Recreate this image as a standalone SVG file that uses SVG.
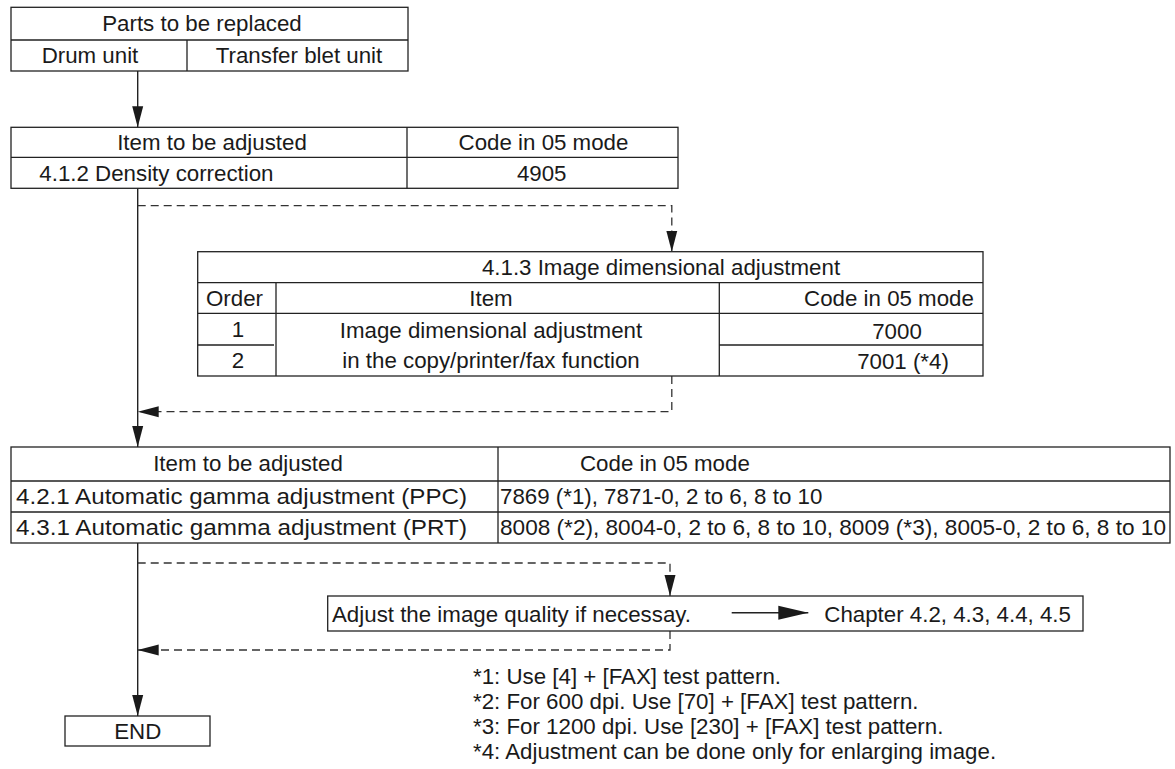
<svg xmlns="http://www.w3.org/2000/svg" width="1175" height="769" viewBox="0 0 1175 769">
<style>
  .t { font-family: "Liberation Sans", Arial, Helvetica, sans-serif; font-size: 22.3px; fill: #1a1a1a; }
  .m { text-anchor: middle; }
  .box { fill: #ffffff; stroke: #222; stroke-width: 1.3; }
  .ln { stroke: #222; stroke-width: 1.3; fill: none; }
  .solid { stroke: #222; stroke-width: 1.4; fill: none; }
  .dash { stroke: #333; stroke-width: 1.3; fill: none; stroke-dasharray: 8 5; }
</style>
<defs>
  <marker id="ah" markerUnits="userSpaceOnUse" markerWidth="22" markerHeight="12" refX="21" refY="6" orient="auto">
    <path d="M0,0.5 L21,6 L0,11.5 Z" fill="#1a1a1a"/>
  </marker>
  <marker id="ah2" markerUnits="userSpaceOnUse" markerWidth="31" markerHeight="15" refX="30" refY="7.5" orient="auto">
    <path d="M0,0.5 L30,7.5 L0,14.5 Z" fill="#1a1a1a"/>
  </marker>
</defs>
<rect width="1175" height="769" fill="#ffffff"/>

<g id="connectors">
  <path class="solid" d="M137.7,71 V127.3" marker-end="url(#ah)"/>
  <path class="solid" d="M137.7,188.3 V447" marker-end="url(#ah)"/>
  <path class="solid" d="M137.7,543 V716" marker-end="url(#ah)"/>
  <path class="dash" d="M137.7,205.7 H671.8 V251.7" marker-end="url(#ah)"/>
  <path class="dash" d="M671.8,376 V411.7 H137.7" marker-end="url(#ah)"/>
  <path class="dash" d="M137.7,563 H670 V596" marker-end="url(#ah)"/>
  <path class="dash" d="M670,631 V650 H137.7" marker-end="url(#ah)"/>
</g>

<g id="parts">
  <rect class="box" x="11" y="7.3" width="397" height="63.7"/>
  <path class="ln" d="M11,40 H408 M187,40 V71"/>
  <text class="t m" x="202" y="30.7">Parts to be replaced</text>
  <text class="t m" x="90" y="63.3">Drum unit</text>
  <text class="t m" x="299" y="63.3">Transfer blet unit</text>
</g>

<g id="density">
  <rect class="box" x="11" y="127.3" width="667" height="61"/>
  <path class="ln" d="M11,157.3 H678 M407,127.3 V188.3"/>
  <text class="t m" x="212" y="149.5">Item to be adjusted</text>
  <text class="t m" x="543.5" y="149.5">Code in 05 mode</text>
  <text class="t" x="39.3" y="180.5">4.1.2 Density correction</text>
  <text class="t m" x="541.7" y="180.5">4905</text>
</g>

<g id="dimensional">
  <rect class="box" x="197.7" y="251.7" width="785.3" height="124.3"/>
  <path class="ln" d="M197.7,282.7 H983 M197.7,313.3 H983 M276,282.7 V376 M719.3,282.7 V376 M197.7,345 H274 M719.3,345 H983"/>
  <text class="t m" x="661" y="275">4.1.3 Image dimensional adjustment</text>
  <text class="t m" x="234.5" y="305.5">Order</text>
  <text class="t m" x="491" y="305.5">Item</text>
  <text class="t m" x="889" y="305.5">Code in 05 mode</text>
  <text class="t m" x="238" y="337">1</text>
  <text class="t m" x="238" y="368">2</text>
  <text class="t m" x="491" y="338">Image dimensional adjustment</text>
  <text class="t m" x="491" y="368">in the copy/printer/fax function</text>
  <text class="t m" x="897" y="338.5">7000</text>
  <text class="t m" x="903" y="368.5">7001 (*4)</text>
</g>

<g id="gamma">
  <rect class="box" x="11" y="447" width="1159" height="96"/>
  <path class="ln" d="M11,481 H1170 M11,512 H1170 M498,447 V543"/>
  <text class="t m" x="248" y="471">Item to be adjusted</text>
  <text class="t" x="580" y="471">Code in 05 mode</text>
  <text class="t" x="16" y="504" textLength="451" lengthAdjust="spacingAndGlyphs">4.2.1 Automatic gamma adjustment (PPC)</text>
  <text class="t" x="16" y="535" textLength="451" lengthAdjust="spacingAndGlyphs">4.3.1 Automatic gamma adjustment (PRT)</text>
  <text class="t" x="500" y="504">7869 (*1), 7871-0, 2 to 6, 8 to 10</text>
  <text class="t" x="500" y="535" textLength="666" lengthAdjust="spacingAndGlyphs">8008 (*2), 8004-0, 2 to 6, 8 to 10, 8009 (*3), 8005-0, 2 to 6, 8 to 10</text>
</g>

<g id="quality">
  <rect class="box" x="327.7" y="596" width="755.3" height="35"/>
  <text class="t" x="332" y="621.5">Adjust the image quality if necessay.</text>
  <path class="solid" d="M731.7,612.7 H808.3" marker-end="url(#ah2)"/>
  <text class="t" x="824.3" y="621.5">Chapter 4.2, 4.3, 4.4, 4.5</text>
</g>

<g id="end">
  <rect class="box" x="65" y="716" width="145" height="30"/>
  <text class="t m" x="137.7" y="739">END</text>
</g>

<g id="notes">
  <text class="t" x="473" y="683.5">*1: Use [4] + [FAX] test pattern.</text>
  <text class="t" x="473" y="708.8">*2: For 600 dpi. Use [70] + [FAX] test pattern.</text>
  <text class="t" x="473" y="734.1">*3: For 1200 dpi. Use [230] + [FAX] test pattern.</text>
  <text class="t" x="473" y="759.4">*4: Adjustment can be done only for enlarging image.</text>
</g>
</svg>
